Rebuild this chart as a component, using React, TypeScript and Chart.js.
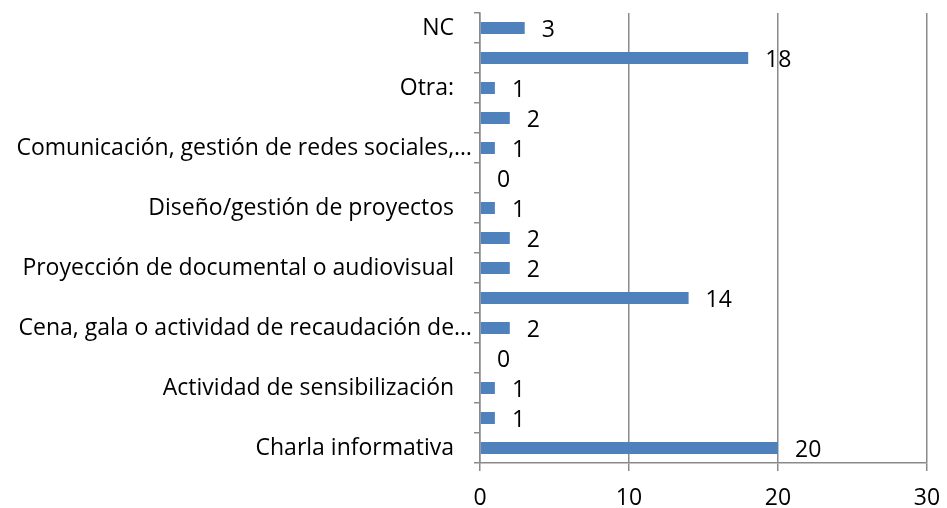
import React, { useEffect, useRef } from "react";
import { Chart, registerables } from "chart.js";

Chart.register(...registerables);

const categories = [
  "NC   ",
  "",
  "Otra:   ",
  "",
  "Comunicación, gestión de redes sociales,…",
  "",
  "Diseño/gestión de proyectos   ",
  "",
  "Proyección de documental o audiovisual   ",
  "",
  "Cena, gala o actividad de recaudación de…",
  "",
  "Actividad de sensibilización   ",
  "",
  "Charla informativa   ",
];
const values = [3, 18, 1, 2, 1, 0, 1, 2, 2, 14, 2, 0, 1, 1, 20];
const xMin = 0;
const xMax = 30;
const xStep = 10;

const FONT = '"Open Sans", "DejaVu Sans", sans-serif';
const GRID = "#8a8a8a";
const FS = 23;

const valueLabels = {
  id: "valueLabels",
  afterDatasetsDraw(chart: any) {
    const ctx = chart.ctx;
    const meta = chart.getDatasetMeta(0);
    ctx.save();
    ctx.font = `${FS}px ${FONT}`;
    ctx.fillStyle = "#000";
    ctx.textAlign = "left";
    ctx.textBaseline = "middle";
    meta.data.forEach((bar: any, i: number) => {
      const { x, y } = bar.getProps(["x", "y"], true);
      ctx.fillText(String(values[i]), x + 17, y + 2);
    });
    ctx.restore();
  },
};

export default function App() {
  const ref = useRef<HTMLCanvasElement | null>(null);
  useEffect(() => {
    if (!ref.current) return;
    const chart = new Chart(ref.current, {
      type: "bar",
      data: {
        labels: categories,
        datasets: [
          {
            data: values,
            backgroundColor: "#4F81BD",
            borderWidth: 0,
            categoryPercentage: 1,
            barPercentage: 0.4,
          },
        ],
      },
      options: {
        indexAxis: "y",
        animation: false,
        responsive: false,
        layout: { padding: { top: 13, right: 20, left: 0, bottom: 0 } },
        plugins: {
          legend: { display: false },
          tooltip: { enabled: false },
        },
        scales: {
          x: {
            type: "linear",
            min: xMin,
            max: xMax,
            ticks: {
              stepSize: xStep,
              color: "#000",
              font: { size: FS, family: FONT },
              padding: 14,
            },
            grid: { color: GRID, lineWidth: 1.5, tickLength: 8, drawTicks: true },
            border: { color: GRID, width: 1.5 },
            afterFit(s: any) {
              s.height = 45;
              s.paddingLeft = 0;
              s.paddingRight = 0;
            },
          },
          y: {
            type: "category",
            ticks: {
              color: "#000",
              font: { size: FS, family: FONT },
              padding: 2,
              autoSkip: false,
            },
            grid: {
              display: true,
              drawOnChartArea: false,
              drawTicks: true,
              tickLength: 6,
              lineWidth: 1.5,
              color: GRID,
              offset: true,
            },
            border: { color: GRID, width: 1.5 },
            afterFit(s: any) {
              s.width = 480;
              s.paddingTop = 0;
              s.paddingBottom = 0;
            },
          },
        },
      },
      plugins: [valueLabels],
    });
    return () => chart.destroy();
  }, []);
  return (
    <div style={{ position: "absolute", left: 0, top: 0, width: 947, height: 508, background: "#fff" }}>
      <canvas ref={ref} width={947} height={508} />
    </div>
  );
}
